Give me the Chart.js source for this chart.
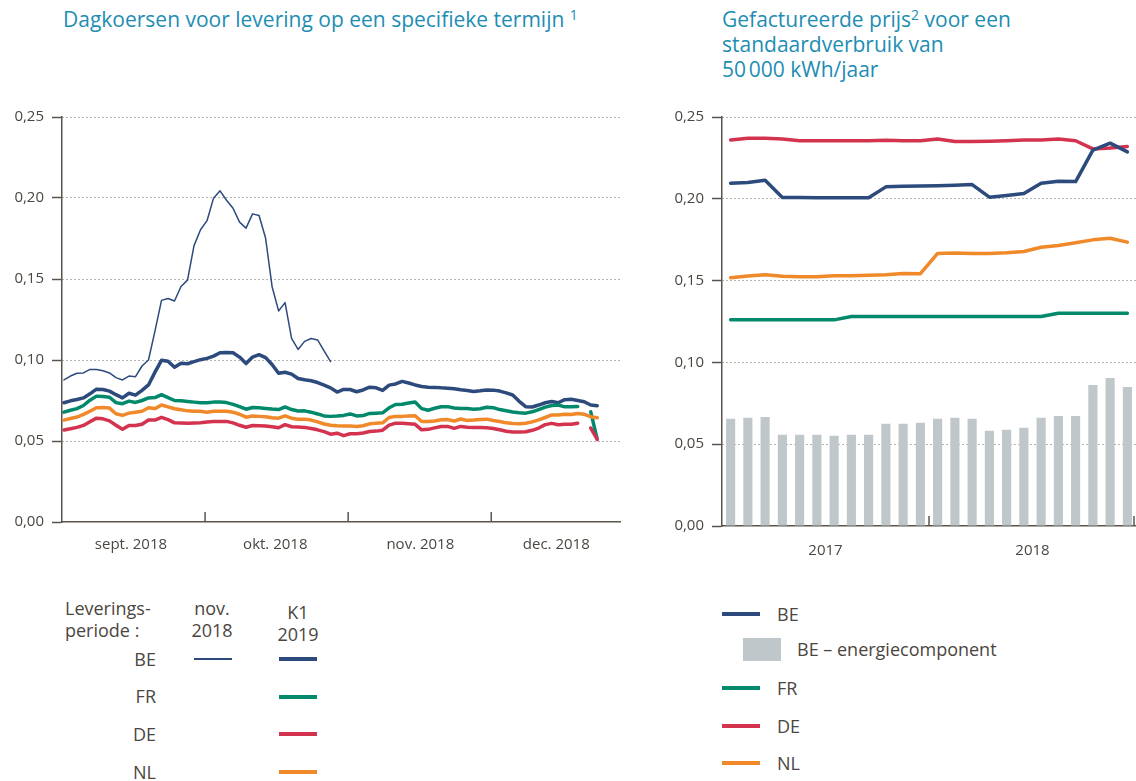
<!DOCTYPE html>
<html lang="nl">
<head>
<meta charset="utf-8">
<title>Dagkoersen en gefactureerde prijs</title>
<script src="https://cdn.jsdelivr.net/npm/chart.js@4.4.1/dist/chart.umd.min.js"></script>
<style>
  body { margin: 0; background: #fff; font-family: 'Open Sans', 'Noto Sans', sans-serif; color: #4b4640; }
  #page { position: relative; width: 1136px; height: 781px; overflow: hidden; }
  .box { position: absolute; }
  .title { position: absolute; color: #1e8db3; font-size: 21px; line-height: 25px; white-space: nowrap; }
  .title sup { font-size: 14px; vertical-align: 7px; line-height: 0; }
  .lbl { position: absolute; font-size: 18px; line-height: 22px; white-space: nowrap; }
  .sw { position: absolute; height: 3.5px; width: 38px; }
</style>
</head>
<body>
<div id="page">
  <div class="title" style="left:63px;top:7px;">Dagkoersen voor levering op een specifieke termijn <sup>1</sup></div>
  <div class="title" style="left:722px;top:7px;">Gefactureerde prijs<sup>2</sup> voor een<br>standaardverbruik van<br>50&#8239;000 kWh/jaar</div>

  <div class="box" style="left:0;top:100px;width:630px;height:460px;"><canvas id="dayChart"></canvas></div>
  <div class="box" style="left:660px;top:100px;width:476px;height:470px;"><canvas id="monthChart"></canvas></div>

  <!-- legende links -->
  <div class="lbl" style="left:65px;top:597px;">Leverings-<br>periode :</div>
  <div class="lbl" style="left:172px;top:597px;width:80px;text-align:center;">nov.<br>2018</div>
  <div class="lbl" style="left:258px;top:601px;width:80px;text-align:center;">K1<br>2019</div>
  <div class="lbl" style="left:96px;top:648px;width:60px;text-align:right;">BE</div>
  <div class="lbl" style="left:96px;top:685px;width:60px;text-align:right;">FR</div>
  <div class="lbl" style="left:96px;top:723px;width:60px;text-align:right;">DE</div>
  <div class="lbl" style="left:96px;top:761px;width:60px;text-align:right;">NL</div>
  <div class="sw" style="left:194px;top:658px;height:1.5px;background:#2c4a7c;"></div>
  <div class="sw" style="left:279px;top:657px;background:#2c4a7c;"></div>
  <div class="sw" style="left:279px;top:695px;background:#00896a;"></div>
  <div class="sw" style="left:279px;top:732px;background:#d4334f;"></div>
  <div class="sw" style="left:279px;top:770px;background:#f0892a;"></div>

  <!-- legende rechts -->
  <div class="sw" style="left:722px;top:612px;background:#2c4a7c;"></div>
  <div class="lbl" style="left:777px;top:603px;">BE</div>
  <div class="sw" style="left:743px;top:638px;height:23px;background:#bfc7ca;"></div>
  <div class="lbl" style="left:797px;top:638px;">BE – energiecomponent</div>
  <div class="sw" style="left:722px;top:686px;background:#00896a;"></div>
  <div class="lbl" style="left:777px;top:677px;">FR</div>
  <div class="sw" style="left:722px;top:724px;background:#d4334f;"></div>
  <div class="lbl" style="left:777px;top:715px;">DE</div>
  <div class="sw" style="left:722px;top:761px;background:#f0892a;"></div>
  <div class="lbl" style="left:777px;top:752px;">NL</div>
</div>

<script>
// dagkoersen (EUR/kWh), per handelsdag
var beNov2018 = [0.0877, 0.0901, 0.0918, 0.0920, 0.0942, 0.0942, 0.0934, 0.0920, 0.0891, 0.0877,
  0.0901, 0.0897, 0.0963, 0.1000, 0.1180, 0.1368, 0.1380, 0.1364, 0.1454, 0.1493,
  0.1706, 0.1804, 0.1860, 0.1999, 0.2044, 0.1986, 0.1937, 0.1851, 0.1814, 0.1902,
  0.1892, 0.1753, 0.1454, 0.1303, 0.1354, 0.1133, 0.1065, 0.1115, 0.1133, 0.1124,
  0.1056, 0.0990];
var beK12019 = [0.0736, 0.0748, 0.0756, 0.0766, 0.0791, 0.0820, 0.0818, 0.0808, 0.0786, 0.0766,
  0.0795, 0.0783, 0.0812, 0.0846, 0.0925, 0.0998, 0.0992, 0.0955, 0.0980, 0.0977,
  0.0990, 0.1002, 0.1010, 0.1024, 0.1045, 0.1047, 0.1045, 0.1018, 0.0978, 0.1018,
  0.1033, 0.1015, 0.0972, 0.0918, 0.0924, 0.0913, 0.0886, 0.0878, 0.0872, 0.0861,
  0.0845, 0.0828, 0.0802, 0.0818, 0.0818, 0.0804, 0.0815, 0.0832, 0.0828, 0.0812,
  0.0845, 0.0852, 0.0868, 0.0858, 0.0846, 0.0836, 0.0832, 0.0831, 0.0828, 0.0826,
  0.0822, 0.0816, 0.0812, 0.0806, 0.0810, 0.0815, 0.0814, 0.0808, 0.0797, 0.0784,
  0.0745, 0.0712, 0.0710, 0.0722, 0.0736, 0.0744, 0.0736, 0.0755, 0.0758, 0.0750,
  0.0742, 0.0722, 0.0718];
var frK12019 = [0.0678, 0.0690, 0.0700, 0.0719, 0.0752, 0.0777, 0.0775, 0.0770, 0.0737, 0.0730,
  0.0746, 0.0738, 0.0750, 0.0766, 0.0768, 0.0786, 0.0768, 0.0750, 0.0748, 0.0744,
  0.0740, 0.0736, 0.0736, 0.0740, 0.0740, 0.0737, 0.0726, 0.0712, 0.0696, 0.0707,
  0.0705, 0.0701, 0.0697, 0.0694, 0.0710, 0.0694, 0.0685, 0.0686, 0.0678, 0.0667,
  0.0655, 0.0652, 0.0654, 0.0658, 0.0667, 0.0655, 0.0657, 0.0670, 0.0672, 0.0674,
  0.0705, 0.0725, 0.0727, 0.0735, 0.0741, 0.0700, 0.0690, 0.0702, 0.0711, 0.0712,
  0.0704, 0.0701, 0.0700, 0.0696, 0.0699, 0.0708, 0.0706, 0.0694, 0.0687, 0.0679,
  0.0674, 0.0672, 0.0680, 0.0694, 0.0709, 0.0719, 0.0722, 0.0711, 0.0711, 0.0713,
  null, 0.0680, 0.0510];
var deK12019 = [0.0568, 0.0576, 0.0584, 0.0596, 0.0619, 0.0641, 0.0637, 0.0624, 0.0597, 0.0572,
  0.0596, 0.0596, 0.0603, 0.0630, 0.0629, 0.0646, 0.0632, 0.0612, 0.0611, 0.0609,
  0.0611, 0.0613, 0.0617, 0.0620, 0.0621, 0.0621, 0.0612, 0.0597, 0.0585, 0.0596,
  0.0594, 0.0592, 0.0588, 0.0582, 0.0601, 0.0588, 0.0586, 0.0584, 0.0577, 0.0569,
  0.0558, 0.0542, 0.0548, 0.0533, 0.0545, 0.0545, 0.0549, 0.0559, 0.0561, 0.0567,
  0.0598, 0.0610, 0.0609, 0.0606, 0.0603, 0.0569, 0.0572, 0.0581, 0.0589, 0.0590,
  0.0578, 0.0590, 0.0585, 0.0584, 0.0584, 0.0582, 0.0577, 0.0569, 0.0560, 0.0556,
  0.0555, 0.0557, 0.0566, 0.0580, 0.0601, 0.0609, 0.0600, 0.0603, 0.0603, 0.0610,
  null, 0.0580, 0.0510];
var nlK12019 = [0.0629, 0.0639, 0.0648, 0.0664, 0.0684, 0.0705, 0.0707, 0.0703, 0.0668, 0.0658,
  0.0672, 0.0678, 0.0684, 0.0705, 0.0700, 0.0722, 0.0711, 0.0699, 0.0693, 0.0686,
  0.0684, 0.0684, 0.0678, 0.0684, 0.0684, 0.0684, 0.0678, 0.0665, 0.0647, 0.0654,
  0.0652, 0.0650, 0.0643, 0.0641, 0.0655, 0.0641, 0.0634, 0.0635, 0.0629, 0.0618,
  0.0605, 0.0597, 0.0594, 0.0592, 0.0592, 0.0590, 0.0594, 0.0606, 0.0609, 0.0612,
  0.0645, 0.0652, 0.0652, 0.0655, 0.0656, 0.0620, 0.0621, 0.0624, 0.0631, 0.0632,
  0.0623, 0.0636, 0.0627, 0.0629, 0.0633, 0.0635, 0.0627, 0.0620, 0.0612, 0.0608,
  0.0607, 0.0610, 0.0618, 0.0630, 0.0645, 0.0661, 0.0660, 0.0665, 0.0663, 0.0670,
  0.0665, 0.0650, 0.0643];
var days = beK12019.map(function (v, i) { return i; });
var monthLabels = ['sept. 2018', 'okt. 2018', 'nov. 2018', 'dec. 2018'];
var monthCenters = [10.3, 32.5, 54.8, 75.7];   // dagindex midden van de maand
var monthBounds = [21.7, 43.7, 65.7];          // dagindex maandgrens

// gefactureerde prijs (EUR/kWh), per maand jan. 2017 - dec. 2018
var months = ['jan. 2017', 'feb. 2017', 'mrt. 2017', 'apr. 2017', 'mei 2017', 'jun. 2017',
  'jul. 2017', 'aug. 2017', 'sept. 2017', 'okt. 2017', 'nov. 2017', 'dec. 2017',
  'jan. 2018', 'feb. 2018', 'mrt. 2018', 'apr. 2018', 'mei 2018', 'jun. 2018',
  'jul. 2018', 'aug. 2018', 'sept. 2018', 'okt. 2018', 'nov. 2018', 'dec. 2018'];
var years = {6: '2017', 18: '2018'};
var beEnergy = [0.0655, 0.0661, 0.0667, 0.0558, 0.0558, 0.0558, 0.0552, 0.0558, 0.0558, 0.0625,
  0.0625, 0.0631, 0.0655, 0.0661, 0.0655, 0.0582, 0.0588, 0.0600, 0.0661, 0.0673,
  0.0673, 0.0862, 0.0905, 0.0850];
var bePrice = [0.2095, 0.2100, 0.2113, 0.2008, 0.2008, 0.2006, 0.2006, 0.2006, 0.2006, 0.2073,
  0.2077, 0.2078, 0.2080, 0.2083, 0.2087, 0.2010, 0.2020, 0.2032, 0.2095, 0.2107,
  0.2105, 0.2298, 0.2340, 0.2287];
var frPrice = [0.126, 0.126, 0.126, 0.126, 0.126, 0.126, 0.126, 0.128, 0.128, 0.128,
  0.128, 0.128, 0.128, 0.128, 0.128, 0.128, 0.128, 0.128, 0.128, 0.130,
  0.130, 0.130, 0.130, 0.130];
var dePrice = [0.2360, 0.2370, 0.2370, 0.2365, 0.2355, 0.2355, 0.2355, 0.2355, 0.2355, 0.2358,
  0.2355, 0.2355, 0.2365, 0.2350, 0.2350, 0.2352, 0.2355, 0.2360, 0.2360, 0.2365,
  0.2355, 0.2305, 0.2310, 0.2320];
var nlPrice = [0.1518, 0.1528, 0.1536, 0.1526, 0.1524, 0.1524, 0.1530, 0.1530, 0.1532, 0.1536,
  0.1544, 0.1542, 0.1666, 0.1668, 0.1666, 0.1666, 0.1670, 0.1678, 0.1704, 0.1715,
  0.1731, 0.1749, 0.1759, 0.1735];

var NAVY = '#2c4a7c', GREEN = '#00896a', RED = '#d4334f', ORANGE = '#f0892a', GREY = '#bfc7ca';
var AXIS = '#5a544d', TEXT = '#4b4640';

Chart.defaults.font.family = "'Open Sans', 'Noto Sans', sans-serif";
Chart.defaults.color = TEXT;

// korte streepjes op de x-as tussen maanden/jaren (naar binnen gericht)
var boundaryTicks = {
  id: 'boundaryTicks',
  afterDatasetsDraw: function (chart, args, opts) {
    var x = chart.scales.x, area = chart.chartArea, ctx = chart.ctx;
    ctx.save();
    ctx.strokeStyle = AXIS;
    ctx.lineWidth = 1.5;
    opts.values.forEach(function (v) {
      var px = Math.min(x.getPixelForValue(v), area.right - 2);
      ctx.beginPath();
      ctx.moveTo(px, area.bottom);
      ctx.lineTo(px, area.bottom - 10);
      ctx.stroke();
    });
    ctx.restore();
  }
};

function yAxis() {
  return {
    min: 0, max: 0.25,
    afterFit: function (s) { s.width = 62; },
    ticks: {
      stepSize: 0.05, padding: 8, color: TEXT, font: {size: 15},
      callback: function (v) { return v.toFixed(2).replace('.', ','); }
    },
    grid: {
      color: function (c) { return c.tick && c.tick.value === 0 ? 'rgba(0,0,0,0)' : '#6f6a64'; },
      lineWidth: 1, tickLength: 10, tickColor: AXIS, tickWidth: 1.5, tickBorderDash: []
    },
    border: {color: AXIS, width: 1.5, dash: [1, 3]}
  };
}

function line(label, data, color, width) {
  return {
    type: 'line', label: label, data: data, borderColor: color, backgroundColor: color,
    borderWidth: width, pointRadius: 0, tension: 0, spanGaps: false,
    borderJoinStyle: 'round', borderCapStyle: 'round'
  };
}

new Chart(document.getElementById('dayChart'), {
  type: 'line',
  data: {
    labels: days,
    datasets: [
      line('NL K1 2019', nlK12019, ORANGE, 3.5),
      line('DE K1 2019', deK12019, RED, 3.5),
      line('FR K1 2019', frK12019, GREEN, 3.5),
      line('BE K1 2019', beK12019, NAVY, 3.5),
      line('BE nov. 2018', beNov2018, NAVY, 1.5)
    ]
  },
  options: {
    responsive: true, maintainAspectRatio: false, animation: false,
    layout: {padding: {top: 15, right: 10, left: 0, bottom: 0}},
    plugins: {legend: {display: false}, tooltip: {enabled: false}, boundaryTicks: {values: monthBounds}},
    scales: {
      x: {
        type: 'linear', min: -0.3, max: 85.5,
        afterFit: function (s) { s.height = 38; },
        afterBuildTicks: function (s) { s.ticks = monthCenters.map(function (v) { return {value: v}; }); },
        ticks: {
          padding: 6, color: TEXT, font: {size: 15}, maxRotation: 0, autoSkip: false,
          callback: function (v, i) { return monthLabels[i]; }
        },
        grid: {display: false},
        border: {color: AXIS, width: 1.5}
      },
      y: yAxis()
    }
  },
  plugins: [boundaryTicks]
});

new Chart(document.getElementById('monthChart'), {
  type: 'bar',
  data: {
    labels: months,
    datasets: [
      Object.assign(line('BE', bePrice, NAVY, 3.5), {order: 1}),
      Object.assign(line('DE', dePrice, RED, 3.5), {order: 2}),
      Object.assign(line('FR', frPrice, GREEN, 3.5), {order: 3}),
      Object.assign(line('NL', nlPrice, ORANGE, 3.5), {order: 4}),
      {type: 'bar', label: 'BE – energiecomponent', data: beEnergy, backgroundColor: GREY,
        barPercentage: 0.53, categoryPercentage: 1, order: 10}
    ]
  },
  options: {
    responsive: true, maintainAspectRatio: false, animation: false,
    layout: {padding: {top: 15, right: 0, left: 0, bottom: 0}},
    plugins: {legend: {display: false}, tooltip: {enabled: false}, boundaryTicks: {values: [11.5, 23.5]}},
    scales: {
      x: {
        offset: true,
        afterFit: function (s) { s.height = 44; },
        ticks: {
          padding: 8, color: TEXT, font: {size: 15}, maxRotation: 0, autoSkip: false, labelOffset: -8.6,
          callback: function (v, i) { return years[i] || ''; }
        },
        grid: {display: false},
        border: {color: AXIS, width: 1.5}
      },
      y: yAxis()
    }
  },
  plugins: [boundaryTicks]
});
</script>
</body>
</html>
